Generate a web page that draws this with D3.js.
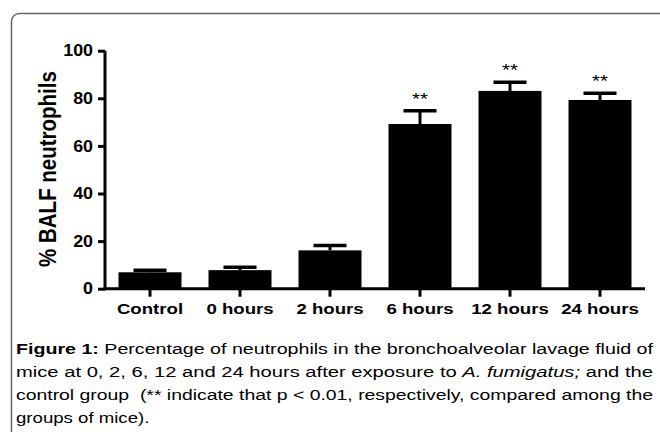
<!DOCTYPE html>
<html><head><meta charset="utf-8">
<script src="https://cdn.jsdelivr.net/npm/d3@7"></script>
<style>
html,body{margin:0;padding:0;background:#fff;}
svg{display:block;font-family:"Liberation Sans",Arial,sans-serif;}
</style></head>
<body>
<svg id="c" width="660" height="432"></svg>
<script>
const categories = ["Control","0 hours","2 hours","6 hours","12 hours","24 hours"];
const means = [6.9, 7.8, 16.1, 69.2, 83.1, 79.3];
const sems = [0.9, 1.2, 2.0, 5.6, 3.6, 2.8];
const marks = ["", "", "", "**", "**", "**"];
const yTicks = [0, 20, 40, 60, 80, 100];
const yTitle = "% BALF neutrophils";

const svg = d3.select("#c");
const STRETCH = 1.2;
function stretch(sel, f){
  sel.each(function(){ const w=this.getComputedTextLength(); d3.select(this).attr("textLength", w*f).attr("lengthAdjust","spacingAndGlyphs"); });
}

// frame
svg.append("rect").attr("x",11.5).attr("y",13.5).attr("width",720).attr("height",520).attr("rx",8)
  .attr("fill","none").attr("stroke","#666").attr("stroke-width",1.5);

const x = d3.scaleBand().domain(categories).range([105,645]).paddingInner(0.3).paddingOuter(0.15);
const y = d3.scaleLinear().domain([0,100]).range([288.7,50.7]);

const data = categories.map((c,i)=>({c, m:means[i], s:sems[i], k:marks[i]}));

// error bars
const eb = svg.append("g");
eb.selectAll("line.v").data(data).join("line")
  .attr("x1",d=>x(d.c)+x.bandwidth()/2).attr("x2",d=>x(d.c)+x.bandwidth()/2)
  .attr("y1",d=>y(d.m)).attr("y2",d=>y(d.m+d.s)).attr("stroke","#000").attr("stroke-width",3);
eb.selectAll("line.cap").data(data).join("line")
  .attr("x1",d=>x(d.c)+x.bandwidth()/2-16.5).attr("x2",d=>x(d.c)+x.bandwidth()/2+16.5)
  .attr("y1",d=>y(d.m+d.s)).attr("y2",d=>y(d.m+d.s)).attr("stroke","#000").attr("stroke-width",3.5);

// bars
svg.append("g").selectAll("rect").data(data).join("rect")
  .attr("x",d=>x(d.c)).attr("width",x.bandwidth())
  .attr("y",d=>y(d.m)).attr("height",d=>y(0)-y(d.m)).attr("fill","#000");

// significance
const st = svg.append("g").selectAll("text").data(data.filter(d=>d.k)).join("text")
  .attr("x",d=>x(d.c)+x.bandwidth()/2).attr("y",d=>y(d.m+d.s)-6)
  .attr("text-anchor","middle").attr("font-size",17).attr("fill","#000").text(d=>d.k);
stretch(st, STRETCH);

// y axis
const ya = svg.append("g").attr("transform","translate(105,0)")
  .call(d3.axisLeft(y).tickValues(yTicks).tickSize(7).tickPadding(5));
ya.select(".domain").attr("stroke-width",3).attr("d","M0,"+y(100)+"V"+(y(0)+1.5));
ya.selectAll(".tick line").attr("stroke-width",3);
ya.selectAll(".tick text").attr("font-size",16.5).attr("font-weight","bold").attr("fill","#000")
  .attr("font-family","'Liberation Sans',Arial,sans-serif");
stretch(ya.selectAll(".tick text"), 1.08);

// x axis
const xa = svg.append("g").attr("transform","translate(0,"+y(0)+")")
  .call(d3.axisBottom(x).tickSize(8).tickPadding(6));
xa.select(".domain").attr("stroke-width",3).attr("d","M103.5,0H645");
xa.selectAll(".tick line").attr("stroke-width",3);
xa.selectAll(".tick text").attr("font-size",15.5).attr("font-weight","bold").attr("fill","#000")
  .attr("font-family","'Liberation Sans',Arial,sans-serif");
stretch(xa.selectAll(".tick text"), STRETCH);

// y title
svg.append("text").attr("transform","translate(56,169) scale(1.15,1) rotate(-90)")
  .attr("text-anchor","middle").attr("font-size",20.5).attr("font-weight","bold").text(yTitle);

// caption
const capLines = [
  [{t:"Figure 1:", b:true},{t:" Percentage of neutrophils in the bronchoalveolar lavage fluid of"}],
  [{t:"mice at 0, 2, 6, 12 and 24 hours after exposure to "},{t:"A. fumigatus;", i:true},{t:" and the"}],
  [{t:"control group  (** indicate that p < 0.01, respectively, compared among the"}],
  [{t:"groups of mice)."}]
];
const capG = svg.append("g").attr("font-size",15.5).attr("fill","#000");
capLines.forEach((ln,li)=>{
  const t = capG.append("text").attr("x",16).attr("y",354+li*23).attr("xml:space","preserve").style("white-space","pre");
  ln.forEach(p=>{
    const ts = t.append("tspan").text(p.t);
    if(p.b) ts.attr("font-weight","bold");
    if(p.i) ts.attr("font-style","italic");
  });
  const w = t.node().getComputedTextLength();
  const target = li<3 ? 637 : w*STRETCH;
  t.attr("textLength",target).attr("lengthAdjust","spacingAndGlyphs");
});
</script>
</body></html>
